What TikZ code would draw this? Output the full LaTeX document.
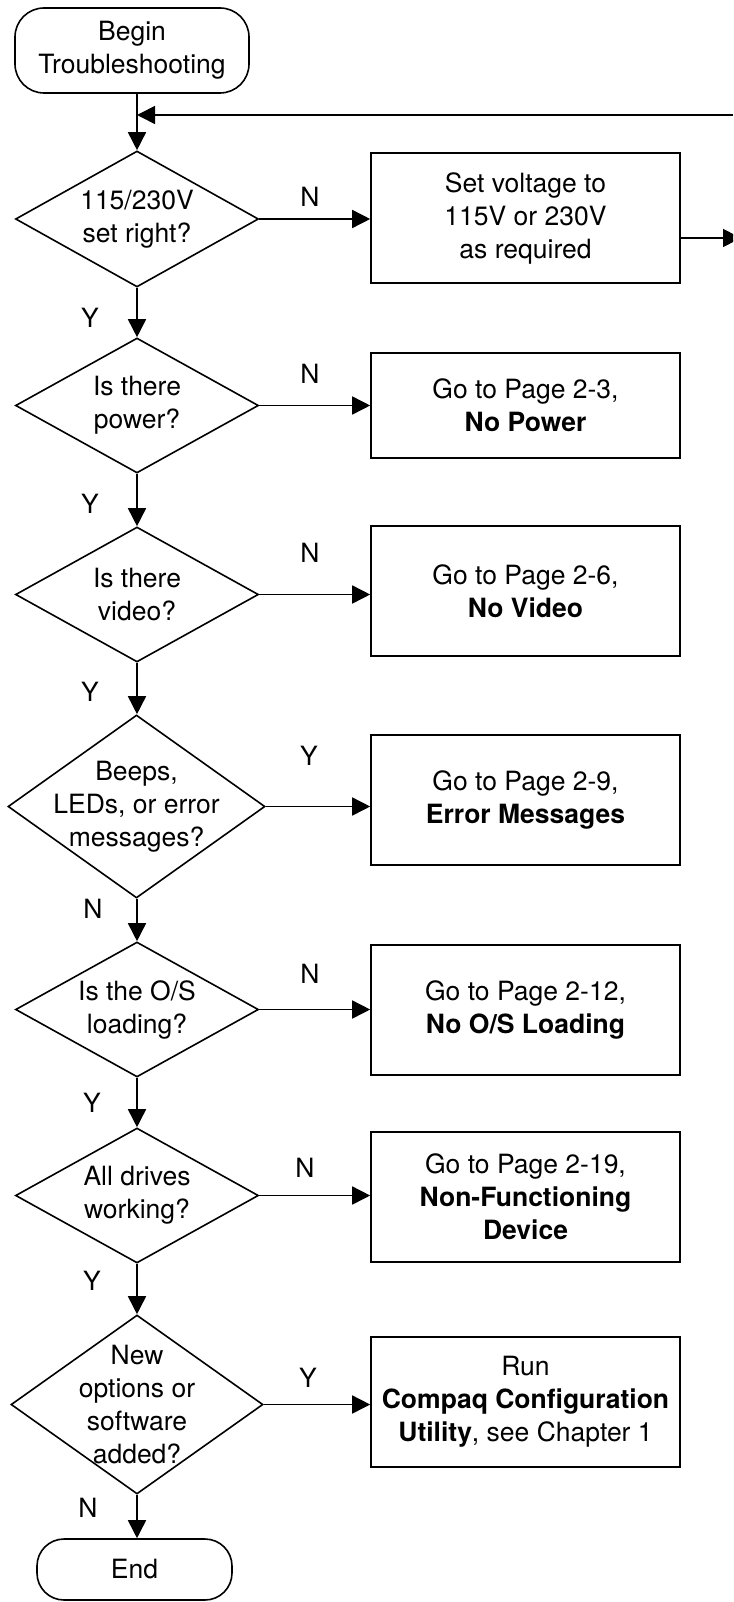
\documentclass[tikz,border=0pt]{standalone}
\usepackage{fontspec}
\setmainfont{TeX Gyre Heros}
\usetikzlibrary{shapes.geometric,arrows.meta}

\begin{document}
\begin{tikzpicture}[x=1pt,y=-1pt,line width=1.6pt,
  every node/.style={font=\fontsize{26.5}{33}\selectfont},
  term/.style={draw,rectangle,rounded corners=29pt,inner sep=0pt,align=center},
  box/.style={draw,rectangle,minimum width=309pt,minimum height=130pt,inner sep=0pt,align=center},
  decision/.style={draw,diamond,inner sep=0pt,minimum width=243pt,minimum height=135pt,
    label={[align=center]center:{#1}}},
  flow/.style={-{Triangle[length=18pt,width=18pt]}}]
\useasboundingbox (0,0) rectangle (733,1602);
\clip (0,0) rectangle (733,1602);
%start
\node[term,minimum width=234pt,minimum height=85pt] (start) at (132,50.5) {Begin\\Troubleshooting};
\coordinate (loopin) at (733,115);
\coordinate (loopout) at (741,238);
%voltage
\node[decision={115/230V\\set right?},minimum height=136pt] (volt) at (137,219) {};
\node[box] (setv) at (525.5,218) {Set voltage to\\115V or 230V\\as required};
\node (n1) at (310,197) {N};
\node (y1) at (90,318) {Y};
%power
\node[decision={Is there\\power?}] (power) at (137,405.5) {};
\node[box,minimum height=105pt] (nopower) at (525.5,405.5) {Go to Page 2-3,\\\textbf{No Power}};
\node (n2) at (310,374) {N};
\node (y2) at (90,504) {Y};
%video
\node[decision={Is there\\video?}] (video) at (137,594.5) {};
\node[box] (novideo) at (525.5,591) {Go to Page 2-6,\\\textbf{No Video}};
\node (n3) at (310,553) {N};
\node (y3) at (90,692) {Y};
%beeps
\node[decision={Beeps,\\LEDs, or error\\messages?},minimum width=257pt,minimum height=183pt] (beeps) at (136.5,806.5) {};
\node[box] (errmsg) at (525.5,800) {Go to Page 2-9,\\\textbf{Error Messages}};
\node (y4) at (309,756) {Y};
\node (n4) at (93,909) {N};
%O/S
\node[decision={Is the O/S\\loading?}] (osload) at (137,1009.5) {};
\node[box] (noos) at (525.5,1010) {Go to Page 2-12,\\\textbf{No O/S Loading}};
\node (n5) at (310,974) {N};
\node (y5) at (92,1103) {Y};
%drives
\node[decision={All drives\\working?}] (drives) at (137,1195.5) {};
\node[box] (nodev) at (525.5,1197) {Go to Page 2-19,\\\textbf{Non-Functioning}\\\textbf{Device}};
\node (n6) at (305,1168) {N};
\node (y6) at (92,1281) {Y};
%new options
\node[decision={New\\options or\\software\\added?},minimum width=252pt,minimum height=179pt] (newopt) at (137,1404.5) {};
\node[box] (runcfg) at (525.5,1402) {Run\\\textbf{Compaq Configuration}\\\textbf{Utility}, see Chapter 1};
\node (y7) at (308,1378) {Y};
\node (n7) at (88,1508) {N};
%end
\node[term,minimum width=195pt,minimum height=61pt,rounded corners=27pt] (finish) at (134.5,1569.5) {End};
%connectors
\draw[flow] (volt.north |- start.south) -- (volt.north);
\draw[flow] (loopin) -- (loopin -| volt.north);
\draw[flow] (setv.east |- loopout) -- (loopout);
\draw[flow] (volt.east) -- (volt.east -| setv.west);
\draw[flow] (volt.south) -- (power.north);
\draw[flow] (power.east) -- (power.east -| nopower.west);
\draw[flow] (power.south) -- (video.north);
\draw[flow] (video.east) -- (video.east -| novideo.west);
\draw[flow] (video.south) -- (video.south |- beeps.north);
\draw[flow] (beeps.east) -- (beeps.east -| errmsg.west);
\draw[flow] (beeps.south -| osload.north) -- (osload.north);
\draw[flow] (osload.east) -- (osload.east -| noos.west);
\draw[flow] (osload.south) -- (drives.north);
\draw[flow] (drives.east) -- (drives.east -| nodev.west);
\draw[flow] (drives.south) -- (newopt.north);
\draw[flow] (newopt.east) -- (newopt.east -| runcfg.west);
\draw[flow] (newopt.south) -- (newopt.south |- finish.north);
\end{tikzpicture}
\end{document}
